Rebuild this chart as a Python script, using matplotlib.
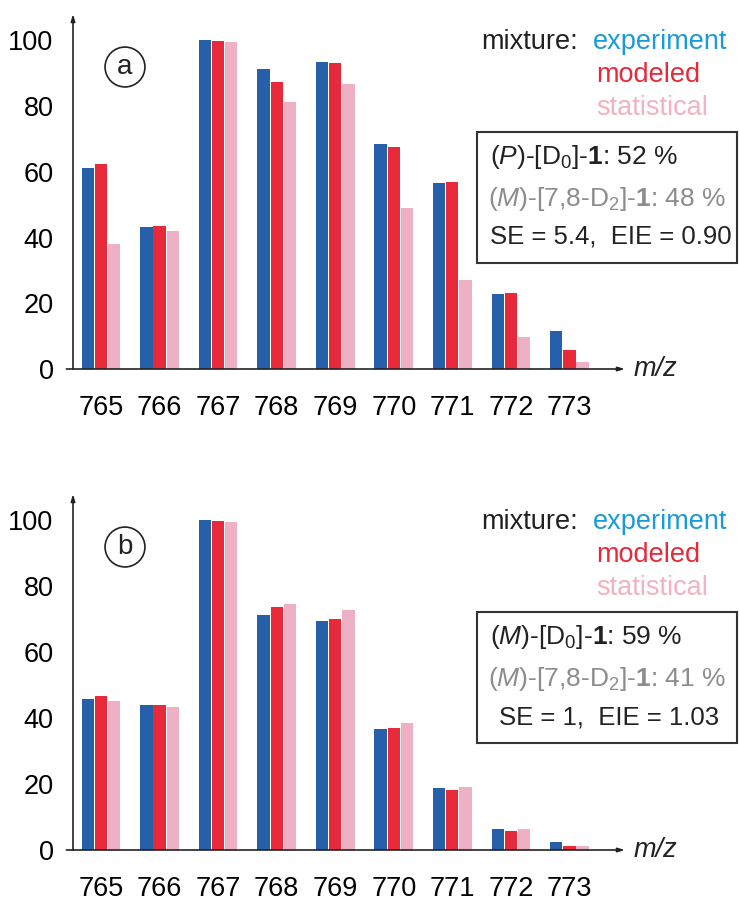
import matplotlib
matplotlib.use("Agg")
import matplotlib.pyplot as plt
import numpy as np

plt.rcParams['font.family'] = ['Liberation Sans', 'DejaVu Sans']
plt.rcParams['mathtext.fontset'] = 'custom'
plt.rcParams['mathtext.rm'] = 'Liberation Sans'
plt.rcParams['mathtext.it'] = 'Liberation Sans:italic'
plt.rcParams['mathtext.bf'] = 'Liberation Sans:bold'

mz = [765, 766, 767, 768, 769, 770, 771, 772, 773]

a_experiment = [61.1, 43.3, 100.0, 91.2, 93.3, 68.6, 56.5, 22.9, 11.7]
a_modeled = [62.3, 43.5, 99.7, 87.4, 93.0, 67.5, 56.8, 23.1, 5.8]
a_statistical = [37.9, 41.9, 99.5, 81.2, 86.8, 49.1, 27.2, 9.7, 2.2]

b_experiment = [45.9, 43.9, 100.0, 71.4, 69.4, 36.7, 18.8, 6.5, 2.4]
b_modeled = [46.7, 44.1, 99.7, 73.7, 70.1, 37.0, 18.1, 5.8, 1.2]
b_statistical = [45.1, 43.5, 99.6, 74.7, 72.8, 38.4, 19.2, 6.3, 1.1]

yticks = [0, 20, 40, 60, 80, 100]

panels = [
    dict(label='a', exp=a_experiment, mod=a_modeled, stat=a_statistical,
         line1=r'$\mathit{(P)}$-[D$_0$]-$\mathbf{1}$: 52 %',
         line2=r'$\mathit{(M)}$-[7,8-D$_2$]-$\mathbf{1}$: 48 %',
         line3='SE = 5.4,  EIE = 0.90', center3=False),
    dict(label='b', exp=b_experiment, mod=b_modeled, stat=b_statistical,
         line1=r'$\mathit{(M)}$-[D$_0$]-$\mathbf{1}$: 59 %',
         line2=r'$\mathit{(M)}$-[7,8-D$_2$]-$\mathbf{1}$: 41 %',
         line3='SE = 1,  EIE = 1.03', center3=True),
]

C_EXP = '#2660ab'
C_MOD = '#e8293a'
C_STAT = '#edb0c5'
C_LEG_EXP = '#1b9bd6'
C_LEG_STAT = '#f2b3bf'
GRAY = '#8c8c8c'

W, H = 739, 901
fig = plt.figure(figsize=(W / 100, H / 100), dpi=100)

def fx(px):
    return px / W

def fy(py):
    return 1 - py / H

axes_px = [(73, 14, 625, 369), (73, 494, 625, 850)]  # left, top, right, bottom

x = np.arange(len(mz))
bw = 0.21
off = 0.225

for p, (l, t, r, b) in zip(panels, axes_px):
    ax = fig.add_axes([fx(l), fy(b), fx(r - l), (b - t) / H])
    ax.bar(x - off, p['exp'], bw, color=C_EXP)
    ax.bar(x, p['mod'], bw, color=C_MOD)
    ax.bar(x + off, p['stat'], bw, color=C_STAT)
    ax.set_ylim(0, 108)
    ax.set_xlim(-0.48, 8.95)
    ax.set_xticks(x)
    ax.set_xticklabels([str(m) for m in mz])
    ax.set_yticks(yticks)
    ax.tick_params(axis='both', length=0, labelsize=19.5)
    ax.tick_params(axis='y', pad=14)
    ax.tick_params(axis='x', pad=19)
    for s in ax.spines.values():
        s.set_visible(False)
    ax.annotate('', xy=(0, 1), xytext=(0, 0), xycoords='axes fraction',
                arrowprops=dict(arrowstyle='-|>,head_length=0.4,head_width=0.12',
                                lw=1.2, color='#222222', shrinkA=0, shrinkB=0))
    ax.annotate('', xy=(1, 0), xytext=(-0.012, 0), xycoords='axes fraction',
                arrowprops=dict(arrowstyle='-|>,head_length=0.4,head_width=0.12',
                                lw=1.2, color='#222222', shrinkA=0, shrinkB=0))
    ax.set_facecolor('none')

    # m/z label
    fig.text(fx(634), fy(b), 'm/z', style='italic', fontsize=19.5,
             ha='left', va='center', color='#222222')

    # circled panel label
    cx, cy = 125, t + 53
    fig.text(fx(cx), fy(cy), p['label'], fontsize=20, ha='center', va='center',
             color='#222222',
             bbox=dict(boxstyle='circle,pad=0.25', fc='white', ec='#222222', lw=1.2))

    # legend text
    fig.text(fx(578), fy(t + 28), 'mixture:', fontsize=19.5, ha='right', va='center',
             color='#222222')
    fig.text(fx(593), fy(t + 28), 'experiment', fontsize=19.5, ha='left', va='center',
             color=C_LEG_EXP)
    fig.text(fx(596), fy(t + 61), 'modeled', fontsize=19.5, ha='left', va='center',
             color=C_MOD)
    fig.text(fx(596), fy(t + 94), 'statistical', fontsize=19.5, ha='left', va='center',
             color=C_LEG_STAT)

    # info box
    bx0, by0, bx1, by1 = 477, t + 118, 737, t + 249
    rect = plt.Rectangle((fx(bx0), fy(by1)), fx(bx1 - bx0), (by1 - by0) / H,
                         transform=fig.transFigure, fill=False, ec='#333333', lw=1.5)
    fig.add_artist(rect)
    fig.text(fx(490), fy(t + 143), p['line1'], fontsize=19, ha='left', va='center',
             color='#222222')
    fig.text(fx(488), fy(t + 185), p['line2'], fontsize=19, ha='left', va='center',
             color=GRAY)
    if p['center3']:
        fig.text(fx(609), fy(t + 223), p['line3'], fontsize=18.5, ha='center',
                 va='center', color='#222222')
    else:
        fig.text(fx(490), fy(t + 223), p['line3'], fontsize=18.5, ha='left',
                 va='center', color='#222222')

fig.savefig('out.png', dpi=100, facecolor='white')
